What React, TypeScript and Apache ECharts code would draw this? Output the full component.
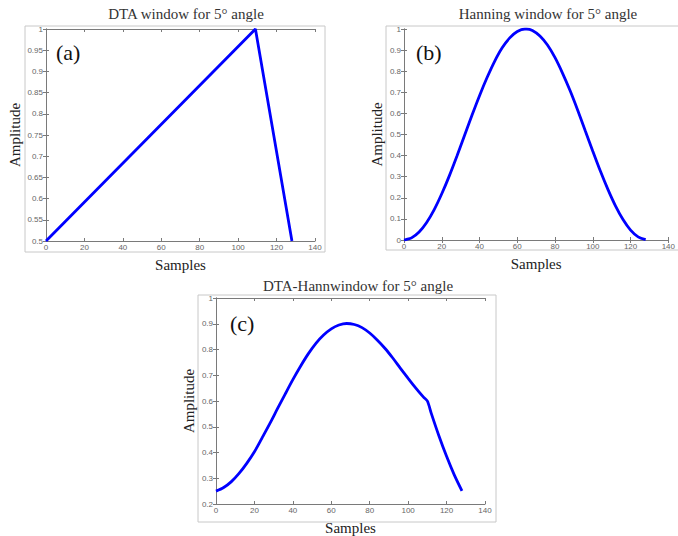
import React, { useEffect, useRef } from "react";
import * as echarts from "echarts";

// Panel (a): DTA window, piecewise linear key points [sample, amplitude]
const dtaX = [0, 109, 128];
const dtaY = [0.5, 1.0, 0.5];

// Panel (b): Hanning window
const hannX = [0, 1, 4, 8, 12, 16, 20, 24, 28, 32, 36, 40, 44, 48, 52, 56, 60, 64, 65, 68, 72, 76, 80, 84, 88, 92, 96, 100, 104, 108, 112, 116, 120, 124, 128];
const hannY = [0, 0.002, 0.01, 0.038, 0.083, 0.144, 0.219, 0.304, 0.397, 0.494, 0.591, 0.684, 0.77, 0.847, 0.911, 0.958, 0.988, 1.0, 1.0, 0.993, 0.967, 0.924, 0.864, 0.79, 0.707, 0.615, 0.518, 0.421, 0.327, 0.24, 0.162, 0.097, 0.047, 0.015, 0.002];

// Panel (c): DTA-Hann window
const dhX = [0, 4, 8, 12, 16, 20, 24, 28, 32, 36, 40, 44, 48, 52, 56, 60, 64, 68, 72, 76, 80, 84, 88, 92, 96, 100, 104, 108, 110, 112, 116, 120, 124, 128];
const dhY = [0.25, 0.264, 0.287, 0.319, 0.358, 0.403, 0.457, 0.512, 0.57, 0.627, 0.683, 0.735, 0.783, 0.824, 0.856, 0.88, 0.895, 0.901, 0.897, 0.885, 0.864, 0.836, 0.804, 0.767, 0.727, 0.688, 0.65, 0.615, 0.6, 0.553, 0.465, 0.385, 0.313, 0.251];

const titles = ["DTA window for 5° angle", "Hanning window for 5° angle", "DTA-Hannwindow for 5° angle"];
const panelLabels = ["(a)", "(b)", "(c)"];
const xTicks = { min: 0, max: 140, interval: 20 };
const yRanges = [
  { min: 0.5, max: 1, interval: 0.05 },
  { min: 0, max: 1, interval: 0.1 },
  { min: 0.2, max: 1, interval: 0.1 },
];
const xName = "Samples";
const yName = "Amplitude";

const SERIF = "'Liberation Serif', 'Times New Roman', serif";
const SANS = "'Liberation Sans', Arial, sans-serif";

export default function App() {
  const ref = useRef<HTMLDivElement>(null);
  useEffect(() => {
    if (!ref.current) return;
    const chart = echarts.init(ref.current, undefined, { renderer: "svg" });

    const grids = [
      { left: 46, top: 29, width: 269, height: 212 },
      { left: 404, top: 29, width: 268, height: 211 },
      { left: 216, top: 298, width: 269, height: 213 },
    ];
    const frames = [
      { x: 25, y: 26, w: 300, h: 226 },
      { x: 386, y: 26, w: 300, h: 224 },
      { x: 198, y: 295, w: 298, h: 227 },
    ];
    const titlePos = [
      { x: 186, y: 6 },
      { x: 548, y: 6 },
      { x: 358, y: 278 },
    ];
    const labelPos = [
      { x: 56, y: 41 },
      { x: 416, y: 41 },
      { x: 230, y: 312 },
    ];
    const datas = [
      dtaX.map((x, i) => [x, dtaY[i]]),
      hannX.map((x, i) => [x, hannY[i]]),
      dhX.map((x, i) => [x, dhY[i]]),
    ];

    const axisLine = { show: true, lineStyle: { color: "#7a7a7a", width: 1 } };
    const axisTick = { show: true, inside: true, length: 3, lineStyle: { color: "#7a7a7a" } };
    const labelStyle = { fontFamily: SANS, fontSize: 8, color: "#666" };

    const xAxis: any[] = [];
    const yAxis: any[] = [];
    const series: any[] = [];
    grids.forEach((g, i) => {
      xAxis.push({
        type: "value", gridIndex: i, position: "bottom", ...xTicks,
        axisLine, axisTick, splitLine: { show: false },
        axisLabel: { ...labelStyle, margin: 2 },
        name: xName, nameLocation: "middle", nameGap: 16,
        nameTextStyle: { fontFamily: SERIF, fontSize: 15, color: "#222" },
      });
      xAxis.push({
        type: "value", gridIndex: i, position: "top", ...xTicks,
        axisLine, axisTick, splitLine: { show: false }, axisLabel: { show: false },
      });
      yAxis.push({
        type: "value", gridIndex: i, position: "left", ...yRanges[i],
        axisLine, axisTick, splitLine: { show: false },
        axisLabel: { ...labelStyle, margin: 3 },
        name: yName, nameLocation: "middle", nameGap: i === 0 ? 24 : 20,
        nameTextStyle: { fontFamily: SERIF, fontSize: 15, color: "#222" },
      });
      yAxis.push({
        type: "value", gridIndex: i, position: "right", ...yRanges[i],
        axisLine, axisTick, splitLine: { show: false }, axisLabel: { show: false },
      });
      series.push({
        type: "line", xAxisIndex: 2 * i, yAxisIndex: 2 * i,
        data: datas[i], showSymbol: false, smooth: i === 0 ? false : 0.3,
        lineStyle: { color: "#0000ff", width: 2.8 },
      });
    });

    const graphic: any[] = [];
    frames.forEach((f) => {
      graphic.push({
        type: "rect", shape: { x: f.x, y: f.y, width: f.w, height: f.h },
        style: { fill: "none", stroke: "#c8c8c8", lineWidth: 1 }, silent: true,
      });
    });
    titlePos.forEach((p, i) => {
      graphic.push({
        type: "text", x: p.x, y: p.y,
        style: { text: titles[i], font: `15px ${SERIF}`, fill: "#333", align: "center" },
      });
    });
    labelPos.forEach((p, i) => {
      graphic.push({
        type: "text", x: p.x, y: p.y,
        style: { text: panelLabels[i], font: `22px ${SERIF}`, fill: "#111" },
      });
    });

    chart.setOption({
      animation: false,
      backgroundColor: "#ffffff",
      grid: grids.map((g) => ({ ...g, containLabel: false })),
      xAxis, yAxis, series, graphic,
    });
    return () => chart.dispose();
  }, []);
  return <div ref={ref} style={{ position: "fixed", left: 0, top: 0, width: 678, height: 536 }} />;
}
